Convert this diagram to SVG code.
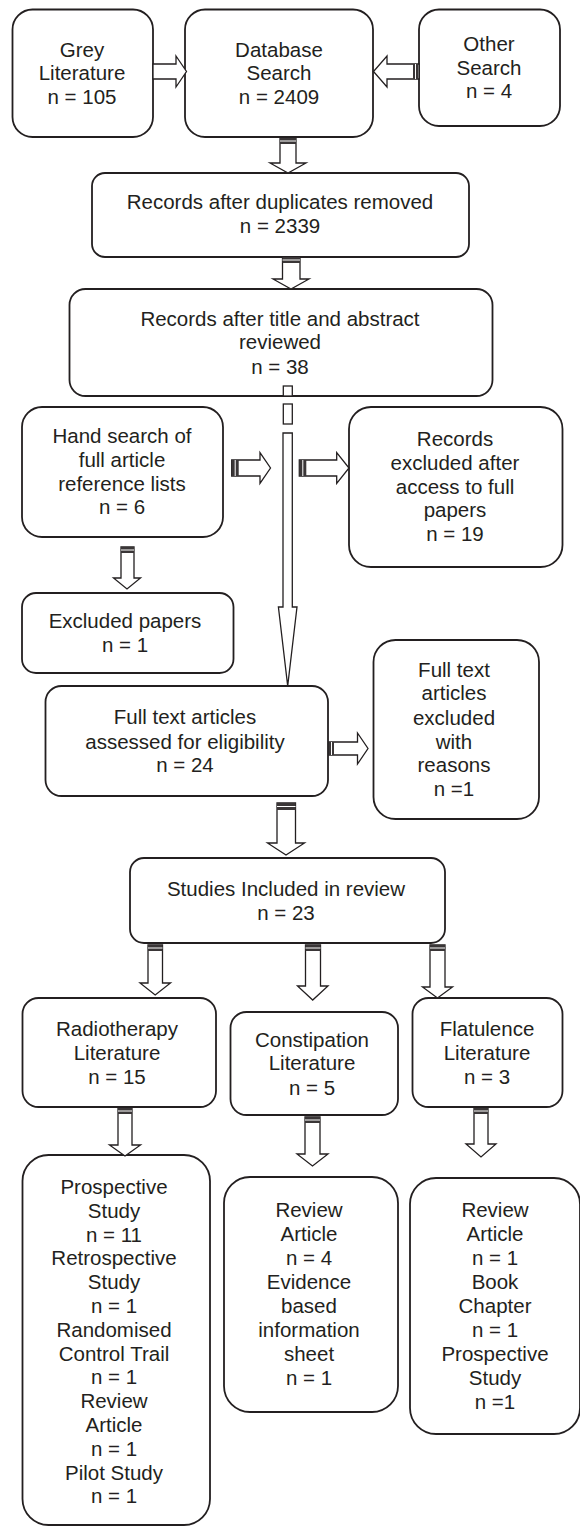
<svg xmlns="http://www.w3.org/2000/svg" width="580" height="1526" viewBox="0 0 580 1526">
<style>
.box{fill:#fff;stroke:#231f20;stroke-width:1.8}
.arr{fill:#fff;stroke:#231f20;stroke-width:1.3;stroke-linejoin:miter}
.band{fill:#3a3637}
.bl{stroke:#fff;stroke-width:1}
text{font-family:"Liberation Sans",Arial,sans-serif;font-size:20.5px;fill:#231f20;text-anchor:middle}
</style>
<rect width="580" height="1526" fill="#fff"/>
<g id="grey"><rect class="box" x="12.5" y="9.5" width="140.5" height="127.5" rx="20"/>
<text><tspan x="82" y="57">Grey</tspan><tspan x="82" y="80">Literature</tspan><tspan x="82" y="104">n = 105</tspan></text></g>
<g id="database"><rect class="box" x="185" y="9.5" width="188" height="127.5" rx="20"/>
<text><tspan x="279" y="57">Database</tspan><tspan x="279" y="80">Search</tspan><tspan x="279" y="104">n = 2409</tspan></text></g>
<g id="other"><rect class="box" x="419" y="9.5" width="141" height="116.5" rx="20"/>
<text><tspan x="489" y="51">Other</tspan><tspan x="489" y="75">Search</tspan><tspan x="489" y="98">n = 4</tspan></text></g>
<g id="duplicates"><rect class="box" x="92" y="173" width="377" height="84" rx="13"/>
<text><tspan x="280" y="209">Records after duplicates removed</tspan><tspan x="280" y="233">n = 2339</tspan></text></g>
<g id="title"><rect class="box" x="69.5" y="289" width="423" height="107" rx="16"/>
<text><tspan x="280" y="326">Records after title and abstract</tspan><tspan x="280" y="349">reviewed</tspan><tspan x="280" y="374">n = 38</tspan></text></g>
<g id="handsearch"><rect class="box" x="22" y="407" width="201" height="130" rx="20"/>
<text><tspan x="122" y="443">Hand search of</tspan><tspan x="122" y="467">full article</tspan><tspan x="122" y="491">reference lists</tspan><tspan x="122" y="514">n = 6</tspan></text></g>
<g id="recordsexcluded"><rect class="box" x="349" y="407" width="213.5" height="160" rx="22"/>
<text><tspan x="455" y="446">Records</tspan><tspan x="455" y="470">excluded after</tspan><tspan x="455" y="494">access to full</tspan><tspan x="455" y="517">papers</tspan><tspan x="455" y="541">n = 19</tspan></text></g>
<g id="excludedpapers"><rect class="box" x="22" y="593" width="211.5" height="80" rx="14"/>
<text><tspan x="125" y="628">Excluded papers</tspan><tspan x="125" y="652">n = 1</tspan></text></g>
<g id="fulltext"><rect class="box" x="45.5" y="686" width="282.5" height="110" rx="16"/>
<text><tspan x="185" y="724">Full text articles</tspan><tspan x="185" y="749">assessed for eligibility</tspan><tspan x="185" y="772">n = 24</tspan></text></g>
<g id="fulltextexcluded"><rect class="box" x="373.5" y="640" width="165.5" height="179" rx="22"/>
<text><tspan x="454" y="677">Full text</tspan><tspan x="454" y="700">articles</tspan><tspan x="454" y="725">excluded</tspan><tspan x="454" y="749">with</tspan><tspan x="454" y="772">reasons</tspan><tspan x="454" y="796">n =1</tspan></text></g>
<g id="studies"><rect class="box" x="130" y="858" width="315" height="85" rx="14"/>
<text><tspan x="286" y="896">Studies Included in review</tspan><tspan x="286" y="920">n = 23</tspan></text></g>
<g id="radiotherapy"><rect class="box" x="22.5" y="998" width="193.5" height="109" rx="16"/>
<text><tspan x="117" y="1036">Radiotherapy</tspan><tspan x="117" y="1060">Literature</tspan><tspan x="117" y="1084">n = 15</tspan></text></g>
<g id="constipation"><rect class="box" x="230.5" y="1012" width="167.5" height="103" rx="16"/>
<text><tspan x="312" y="1047">Constipation</tspan><tspan x="312" y="1070">Literature</tspan><tspan x="312" y="1095">n = 5</tspan></text></g>
<g id="flatulence"><rect class="box" x="412.5" y="998" width="150" height="109" rx="16"/>
<text><tspan x="487" y="1036">Flatulence</tspan><tspan x="487" y="1060">Literature</tspan><tspan x="487" y="1084">n = 3</tspan></text></g>
<g id="radiodetail"><rect class="box" x="22.5" y="1155" width="187.5" height="370" rx="26"/>
<text><tspan x="114" y="1194">Prospective</tspan><tspan x="114" y="1217.8">Study</tspan><tspan x="114" y="1241.6">n = 11</tspan><tspan x="114" y="1265.4">Retrospective</tspan><tspan x="114" y="1289.2">Study</tspan><tspan x="114" y="1313">n = 1</tspan><tspan x="114" y="1336.8">Randomised</tspan><tspan x="114" y="1360.6">Control Trail</tspan><tspan x="114" y="1384.4">n = 1</tspan><tspan x="114" y="1408.2">Review</tspan><tspan x="114" y="1432">Article</tspan><tspan x="114" y="1455.8">n = 1</tspan><tspan x="114" y="1479.6">Pilot Study</tspan><tspan x="114" y="1503.4">n = 1</tspan></text></g>
<g id="constdetail"><rect class="box" x="224" y="1177" width="174" height="235" rx="26"/>
<text><tspan x="309" y="1217">Review</tspan><tspan x="309" y="1241">Article</tspan><tspan x="309" y="1265">n = 4</tspan><tspan x="309" y="1289">Evidence</tspan><tspan x="309" y="1313">based</tspan><tspan x="309" y="1337">information</tspan><tspan x="309" y="1361">sheet</tspan><tspan x="309" y="1385">n = 1</tspan></text></g>
<g id="flatdetail"><rect class="box" x="410" y="1178" width="170" height="256" rx="26"/>
<text><tspan x="495" y="1217">Review</tspan><tspan x="495" y="1241">Article</tspan><tspan x="495" y="1265">n = 1</tspan><tspan x="495" y="1289">Book</tspan><tspan x="495" y="1313">Chapter</tspan><tspan x="495" y="1337">n = 1</tspan><tspan x="495" y="1361">Prospective</tspan><tspan x="495" y="1385">Study</tspan><tspan x="495" y="1409">n =1</tspan></text></g>
<g id="connectors">
  <path class="arr" d="M153 64 H176 V56 L186.5 71.5 L176 87 V79 H153 Z"/>
  <path class="arr" d="M419 64 H387 V56 L373.5 71.5 L387 87 V79 H419 Z"/>
  <rect class="band" x="413" y="64" width="5" height="15"/><line class="bl" x1="415.5" y1="64" x2="415.5" y2="79"/>
  <path class="arr" d="M280 138 H296 V163 H306 L288 173 L270 163 H280 Z"/>
  <rect class="band" x="280" y="138" width="16" height="6"/><line class="bl" x1="280" y1="141" x2="296" y2="141"/>
  <path class="arr" d="M282.5 257 H300 V279 H309 L291 289 L273 279 H282.5 Z"/>
  <rect class="band" x="282.5" y="257" width="17.5" height="6"/><line class="bl" x1="282.5" y1="260" x2="300" y2="260"/>
  <rect class="arr" x="283.3" y="386" width="9" height="10"/>
  <rect class="arr" x="283.3" y="404" width="9" height="20"/>
  <path class="arr" d="M283 433 H292.3 V607 H297 L287.7 686 L278.4 607 H283 Z"/>
  <path class="arr" d="M231.7 460 H260 V452.7 L270.5 468 L260 483.3 V476 H231.7 Z"/>
  <rect class="band" x="231.7" y="460" width="7" height="16"/><line class="bl" x1="235.2" y1="460" x2="235.2" y2="476"/>
  <path class="arr" d="M299.3 460 H336.7 V452.7 L349 468 L336.7 483.3 V476 H299.3 Z"/>
  <rect class="band" x="299.3" y="460" width="7" height="16"/><line class="bl" x1="302.8" y1="460" x2="302.8" y2="476"/>
  <path class="arr" d="M121 547 H134 V578 H140.5 L127 589 L113.5 578 H121 Z"/>
  <rect class="band" x="121" y="547" width="13" height="6"/><line class="bl" x1="121" y1="550" x2="134" y2="550"/>
  <path class="arr" d="M329 742 H357.5 V733 L368 748.5 L357.5 764 V755 H329 Z"/>
  <rect class="band" x="329" y="742" width="5" height="13"/><line class="bl" x1="331.5" y1="742" x2="331.5" y2="755"/>
  <path class="arr" d="M277 803 H295.5 V843 H304.5 L286 855 L267.5 843 H277 Z"/>
  <rect class="band" x="277" y="803" width="18.5" height="7"/><line class="bl" x1="277" y1="806.5" x2="295.5" y2="806.5"/>
  <path class="arr" d="M148 945 H162.5 V983 H170.5 L155.2 995 L140 983 H148 Z"/>
  <rect class="band" x="148" y="945" width="14.5" height="6"/><line class="bl" x1="148" y1="948" x2="162.5" y2="948"/>
  <path class="arr" d="M305.5 945 H320.5 V986 H328 L312.7 1000 L297.5 986 H305.5 Z"/>
  <rect class="band" x="305.5" y="945" width="15" height="6"/><line class="bl" x1="305.5" y1="948" x2="320.5" y2="948"/>
  <path class="arr" d="M430 945 H445 V987 H452.5 L437.5 998 L422.5 987 H430 Z"/>
  <rect class="band" x="430" y="945" width="15" height="6"/><line class="bl" x1="430" y1="948" x2="445" y2="948"/>
  <path class="arr" d="M118 1108 H132 V1145 H140.5 L125 1156 L109.5 1145 H118 Z"/>
  <rect class="band" x="118" y="1108" width="14" height="6"/><line class="bl" x1="118" y1="1111" x2="132" y2="1111"/>
  <path class="arr" d="M305 1117 H320 V1154 H328 L312.5 1166 L297 1154 H305 Z"/>
  <rect class="band" x="305" y="1117" width="15" height="6"/><line class="bl" x1="305" y1="1120" x2="320" y2="1120"/>
  <path class="arr" d="M474 1108 H488 V1144 H496 L481 1157 L466 1144 H474 Z"/>
  <rect class="band" x="474" y="1108" width="14" height="6"/><line class="bl" x1="474" y1="1111" x2="488" y2="1111"/>
</g>
</svg>
